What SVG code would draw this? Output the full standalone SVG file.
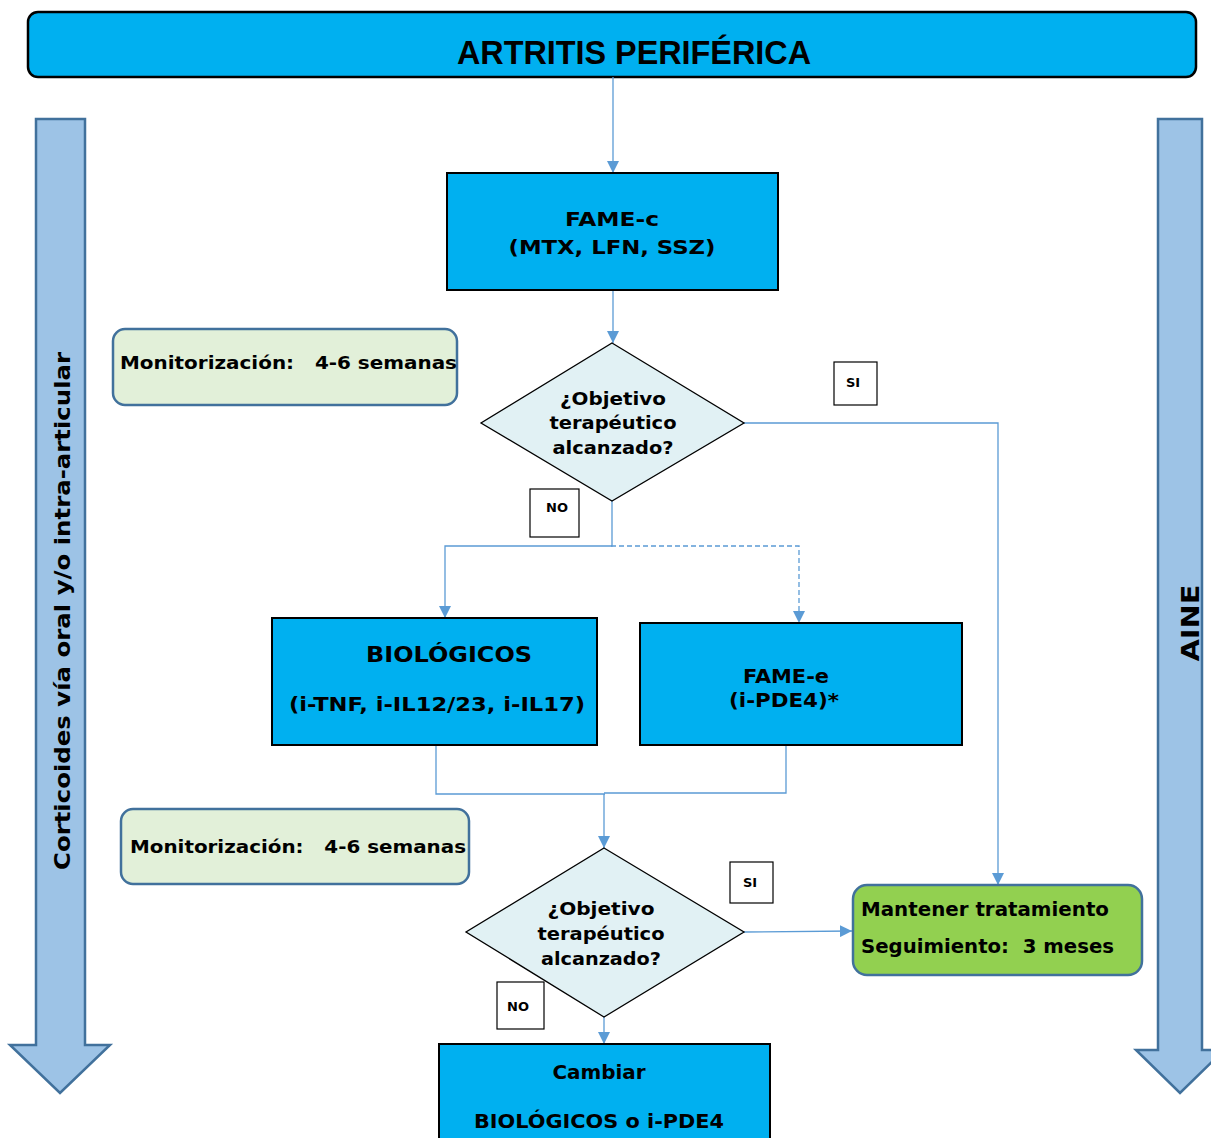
<svg xmlns="http://www.w3.org/2000/svg" width="1211" height="1138" viewBox="0 0 1211 1138">
<defs>
<marker id="ah" markerWidth="12" markerHeight="12" refX="10" refY="5" orient="auto" markerUnits="userSpaceOnUse" viewBox="0 0 10 10">
<path d="M0,0 L10,5 L0,10 z" fill="#5B9BD5"/>
</marker>
<style>
.t{font-family:"DejaVu Sans",Verdana,sans-serif;font-weight:bold;fill:#000}
.box{fill:#00B0F0;stroke:#000;stroke-width:2}
.mon{fill:#E2F0D9;stroke:#41719C;stroke-width:2.5}
.dia{fill:#E1F1F4;stroke:#000;stroke-width:1.3}
.lbl{fill:#fff;stroke:#000;stroke-width:1.2}
.c{fill:none;stroke:#5B9BD5;stroke-width:1.3}
.big{fill:#9DC3E6;stroke:#41719C;stroke-width:2.5}
</style>
</defs>
<rect width="1211" height="1138" fill="#fff"/>

<g id="arrow-left">
<path class="big" d="M36,119 H85 V1045 H110 L60,1093 L10,1045 H36 Z"/>
<text class="t" transform="translate(70,611) rotate(-90)" text-anchor="middle" font-size="22" textLength="518" lengthAdjust="spacingAndGlyphs">Corticoides vía oral y/o intra-articular</text>
</g>
<g id="arrow-right">
<path class="big" d="M1158,119 H1202 V1050 H1224 L1180,1093 L1136,1050 H1158 Z"/>
<text class="t" transform="translate(1199,623) rotate(-90)" text-anchor="middle" font-size="25" textLength="77" lengthAdjust="spacingAndGlyphs">AINE</text>
</g>

<g id="title">
<rect x="28" y="12" width="1168" height="65" rx="10" fill="#00B0F0" stroke="#000" stroke-width="2.5"/>
<text x="634" y="64" text-anchor="middle" font-family="'Liberation Sans',Arial,sans-serif" font-weight="bold" font-size="34" textLength="354" lengthAdjust="spacingAndGlyphs">ARTRITIS PERIFÉRICA</text>
</g>

<g id="connectors">
<path class="c" d="M613,77 V173" marker-end="url(#ah)"/>
<path class="c" d="M613,290 V343" marker-end="url(#ah)"/>
<path class="c" d="M744,423 H998 V885" marker-end="url(#ah)"/>
<path class="c" d="M612,501 V546 H445 V618" marker-end="url(#ah)"/>
<path class="c" d="M611,546 H799 V623" stroke-dasharray="5,3" marker-end="url(#ah)"/>
<path class="c" d="M436,745 V794 H605"/>
<path class="c" d="M786,745 V793 H604"/>
<path class="c" d="M604,794 V848" marker-end="url(#ah)"/>
<path class="c" d="M744,932 L852,931" marker-end="url(#ah)"/>
<path class="c" d="M604,1017 V1044" marker-end="url(#ah)"/>
</g>

<g id="fame-c">
<rect class="box" x="447" y="173" width="331" height="117"/>
<text class="t" x="612" y="226" text-anchor="middle" font-size="20" textLength="94" lengthAdjust="spacingAndGlyphs">FAME-c</text>
<text class="t" x="612" y="254" text-anchor="middle" font-size="20" textLength="207" lengthAdjust="spacingAndGlyphs">(MTX, LFN, SSZ)</text>
</g>

<g id="monit-1">
<rect class="mon" x="113" y="329" width="344" height="76" rx="12"/>
<text class="t" x="120" y="369" font-size="18" textLength="337" lengthAdjust="spacingAndGlyphs" xml:space="preserve">Monitorización:   4-6 semanas</text>
</g>

<g id="decision-1">
<path class="dia" d="M612,343 L744,423 L612,501 L481,423 Z"/>
<text class="t" x="613" y="405" text-anchor="middle" font-size="18" textLength="106" lengthAdjust="spacingAndGlyphs">¿Objetivo</text>
<text class="t" x="613" y="429" text-anchor="middle" font-size="18" textLength="127" lengthAdjust="spacingAndGlyphs">terapéutico</text>
<text class="t" x="613" y="454" text-anchor="middle" font-size="18" textLength="121" lengthAdjust="spacingAndGlyphs">alcanzado?</text>
</g>

<g id="si-1">
<rect class="lbl" x="834" y="362" width="43" height="43"/>
<text class="t" x="853" y="387" text-anchor="middle" font-size="13">SI</text>
</g>

<g id="no-1">
<rect class="lbl" x="530" y="489" width="49" height="48"/>
<text class="t" x="557" y="512" text-anchor="middle" font-size="13">NO</text>
</g>

<g id="biologicos">
<rect class="box" x="272" y="618" width="325" height="127"/>
<text class="t" x="449" y="662" text-anchor="middle" font-size="21" textLength="166" lengthAdjust="spacingAndGlyphs">BIOLÓGICOS</text>
<text class="t" x="437" y="711" text-anchor="middle" font-size="20" textLength="296" lengthAdjust="spacingAndGlyphs">(i-TNF, i-IL12/23, i-IL17)</text>
</g>

<g id="fame-e">
<rect class="box" x="640" y="623" width="322" height="122"/>
<text class="t" x="786" y="683" text-anchor="middle" font-size="19" textLength="86" lengthAdjust="spacingAndGlyphs">FAME-e</text>
<text class="t" x="784" y="707" text-anchor="middle" font-size="19" textLength="110" lengthAdjust="spacingAndGlyphs">(i-PDE4)*</text>
</g>

<g id="monit-2">
<rect class="mon" x="121" y="809" width="348" height="75" rx="12"/>
<text class="t" x="130" y="853" font-size="18" textLength="336" lengthAdjust="spacingAndGlyphs" xml:space="preserve">Monitorización:   4-6 semanas</text>
</g>

<g id="decision-2">
<path class="dia" d="M604,848 L744,932 L604,1017 L466,932 Z"/>
<text class="t" x="601" y="915" text-anchor="middle" font-size="18" textLength="107" lengthAdjust="spacingAndGlyphs">¿Objetivo</text>
<text class="t" x="601" y="940" text-anchor="middle" font-size="18" textLength="127" lengthAdjust="spacingAndGlyphs">terapéutico</text>
<text class="t" x="601" y="965" text-anchor="middle" font-size="18" textLength="120" lengthAdjust="spacingAndGlyphs">alcanzado?</text>
</g>

<g id="si-2">
<rect class="lbl" x="730" y="862" width="43" height="41"/>
<text class="t" x="750" y="887" text-anchor="middle" font-size="13">SI</text>
</g>

<g id="no-2">
<rect class="lbl" x="497" y="982" width="47" height="47"/>
<text class="t" x="518" y="1011" text-anchor="middle" font-size="13">NO</text>
</g>

<g id="mantener">
<rect x="853" y="885" width="289" height="90" rx="14" fill="#92D050" stroke="#41719C" stroke-width="2.5"/>
<text class="t" x="861" y="916" font-size="19" textLength="248" lengthAdjust="spacingAndGlyphs">Mantener tratamiento</text>
<text class="t" x="861" y="953" font-size="19" textLength="253" lengthAdjust="spacingAndGlyphs" xml:space="preserve">Seguimiento:  3 meses</text>
</g>

<g id="cambiar">
<rect class="box" x="439" y="1044" width="331" height="110"/>
<text class="t" x="599" y="1079" text-anchor="middle" font-size="19" textLength="93" lengthAdjust="spacingAndGlyphs">Cambiar</text>
<text class="t" x="599" y="1128" text-anchor="middle" font-size="19" textLength="250" lengthAdjust="spacingAndGlyphs">BIOLÓGICOS o i-PDE4</text>
</g>
</svg>
